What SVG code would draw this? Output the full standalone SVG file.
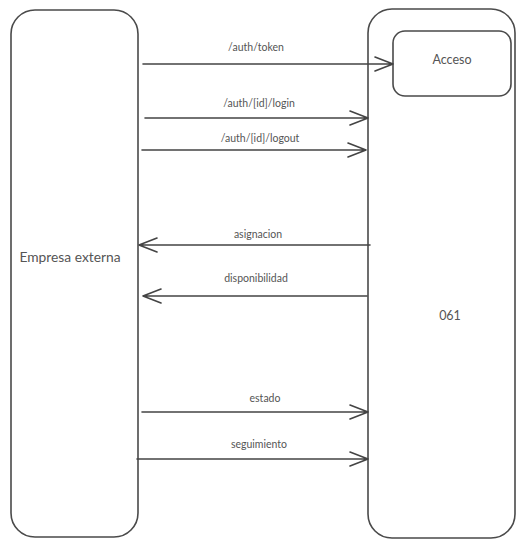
<svg xmlns="http://www.w3.org/2000/svg" width="517" height="539" viewBox="0 0 517 539">
<defs>
<style>
.box{fill:#fff;stroke:#4a4a4a;stroke-width:1.6}
.ln{fill:none;stroke:#444;stroke-width:1.6;stroke-linecap:round;stroke-linejoin:round}
.lbl{font-family:Lato,"Open Sans",sans-serif;font-size:10.5px;fill:#555;text-anchor:middle}
.nt{font-family:Lato,"Open Sans",sans-serif;font-size:12.5px;fill:#555;text-anchor:middle}
</style>
</defs>
<rect width="517" height="539" fill="#fff"/>
<g id="empresa">
<rect class="box" x="11" y="10" width="127" height="527" rx="24" ry="24"/>
<text class="nt" x="70" y="262" style="font-size:13.8px">Empresa externa</text>
</g>
<g id="n061">
<rect class="box" x="368" y="9" width="147" height="529" rx="24" ry="24"/>
<text class="nt" x="450" y="320">061</text>
</g>
<g id="acceso">
<rect class="box" x="393" y="31" width="118" height="65" rx="12" ry="12"/>
<text class="nt" x="452" y="64">Acceso</text>
</g>
<g id="connectors">
<path class="ln" d="M143 64 H393 M375 57 L393 64 L375 71"/>
<text class="lbl" x="256" y="51">/auth/token</text>
<path class="ln" d="M145 118 H368 M350 111 L368 118 L350 125"/>
<text class="lbl" x="259" y="107">/auth/[id]/login</text>
<path class="ln" d="M142 150 H366 M348 143 L366 150 L348 157"/>
<text class="lbl" x="260" y="142">/auth/[id]/logout</text>
<path class="ln" d="M370 245 H139 M157 238 L139 245 L157 252"/>
<text class="lbl" x="258" y="238">asignacion</text>
<path class="ln" d="M367 296 H143 M161 289 L143 296 L161 303"/>
<text class="lbl" x="256" y="282">disponibilidad</text>
<path class="ln" d="M142 412 H368 M350 405 L368 412 L350 419"/>
<text class="lbl" x="265" y="402">estado</text>
<path class="ln" d="M137 459 H368 M350 452 L368 459 L350 466"/>
<text class="lbl" x="259" y="448">seguimiento</text>
</g>
</svg>
